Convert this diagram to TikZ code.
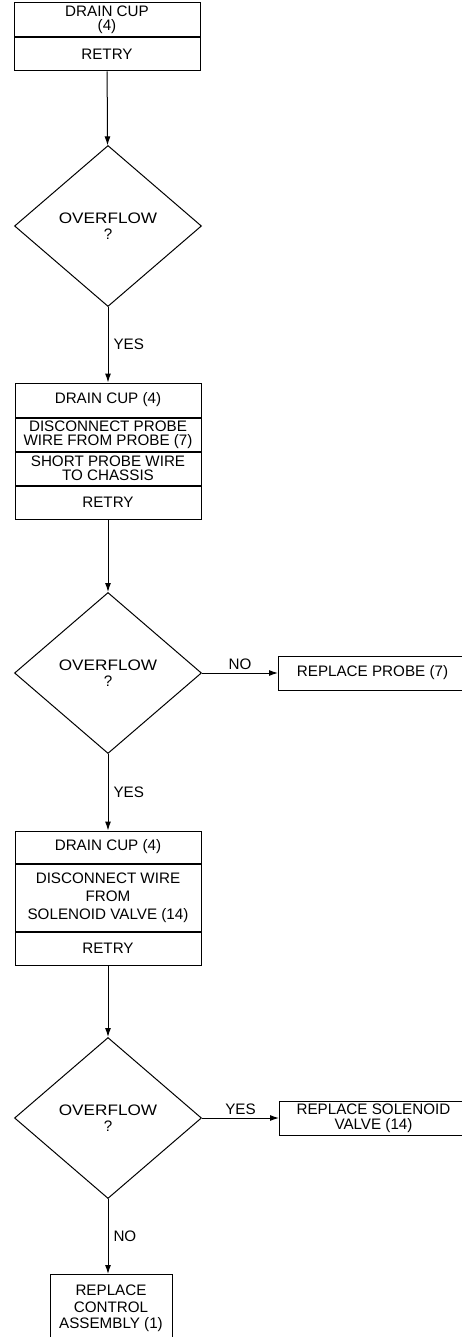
\documentclass[tikz,border=0pt]{standalone}
\usepackage{fontspec}
\setmainfont{Liberation Sans}
\usetikzlibrary{positioning,shapes.geometric,arrows.meta}
\newcommand{\wideword}[1]{\scalebox{1.13}[1]{#1}}
\tikzset{
	part/.style={draw,line width=1pt,minimum width=186pt,minimum height=33pt,inner sep=0pt,align=center,font=\fontsize{15.2}{14}\selectfont},
	decision/.style={diamond,draw,line width=1pt,minimum width=187pt,minimum height=161pt,inner sep=0pt,align=center,font=\fontsize{15.2}{16}\selectfont},
	side/.style={draw,line width=1pt,minimum width=188pt,minimum height=34pt,inner sep=0pt,anchor=west,align=center,font=\fontsize{15.2}{15}\selectfont},
	flow/.style={line width=1pt,-{Latex[length=9pt,width=6pt]}},
	tag/.style={font=\fontsize{15.2}{16}\selectfont,inner sep=3pt}
}
\begin{document}
\begin{tikzpicture}[x=1pt,y=1pt]
		\useasboundingbox (0,0) rectangle (462,-1337);
		% first try
		\node[part,minimum height=34pt] (drainA) at (107,-20) {DRAIN CUP\\(4)};
		\node[part,below=0pt of drainA] (retryA) {RETRY};
		\node[decision] (overA) at (108,-226) {\wideword{OVERFLOW}\\?};
		% probe test
		\node[part,minimum height=34pt] (drainB) at (108,-400) {DRAIN CUP (4)};
		\node[part,below=0pt of drainB] (probeB) {DISCONNECT PROBE\\WIRE FROM PROBE (7)};
		\node[part,below=0pt of probeB] (shortB) {SHORT PROBE WIRE\\TO CHASSIS};
		\node[part,below=0pt of shortB] (retryB) {RETRY};
		\node[decision] (overB) at (108,-673) {\wideword{OVERFLOW}\\?};
		\node[side] (probe) at (278,-673) {REPLACE PROBE (7)};
		% solenoid test
		\node[part,minimum height=32pt] (drainC) at (108,-847) {DRAIN CUP (4)};
		\node[part,minimum height=67pt,font=\fontsize{15.2}{18}\selectfont,below=0pt of drainC] (wireC) {DISCONNECT WIRE\\FROM\\SOLENOID VALVE (14)};
		\node[part,below=0pt of wireC] (retryC) {RETRY};
		\node[decision] (overC) at (108,-1118) {\wideword{OVERFLOW}\\?};
		\node[side] (valve) at (279,-1118) {REPLACE SOLENOID\\VALVE (14)};
		\node[part,minimum width=122pt,minimum height=68pt,font=\fontsize{15.2}{16.5}\selectfont,anchor=north] (control) at (111,-1274) {REPLACE\\CONTROL\\ASSEMBLY (1)};
		% connectors
		\draw[flow] (retryA) -- (overA);
		\draw[flow] (overA) -- node[tag,right=2pt]{YES} (drainB);
		\draw[flow] (retryB) -- (overB);
		\draw[flow] (overB) -- node[tag,above]{NO} (probe);
		\draw[flow] (overB) -- node[tag,right=2pt]{YES} (drainC);
		\draw[flow] (retryC) -- (overC);
		\draw[flow] (overC) -- node[tag,above]{YES} (valve);
		\draw[flow] (overC.south) -- node[tag,right=2pt]{NO} (overC.south |- control.north);
	\end{tikzpicture}
\end{document}
